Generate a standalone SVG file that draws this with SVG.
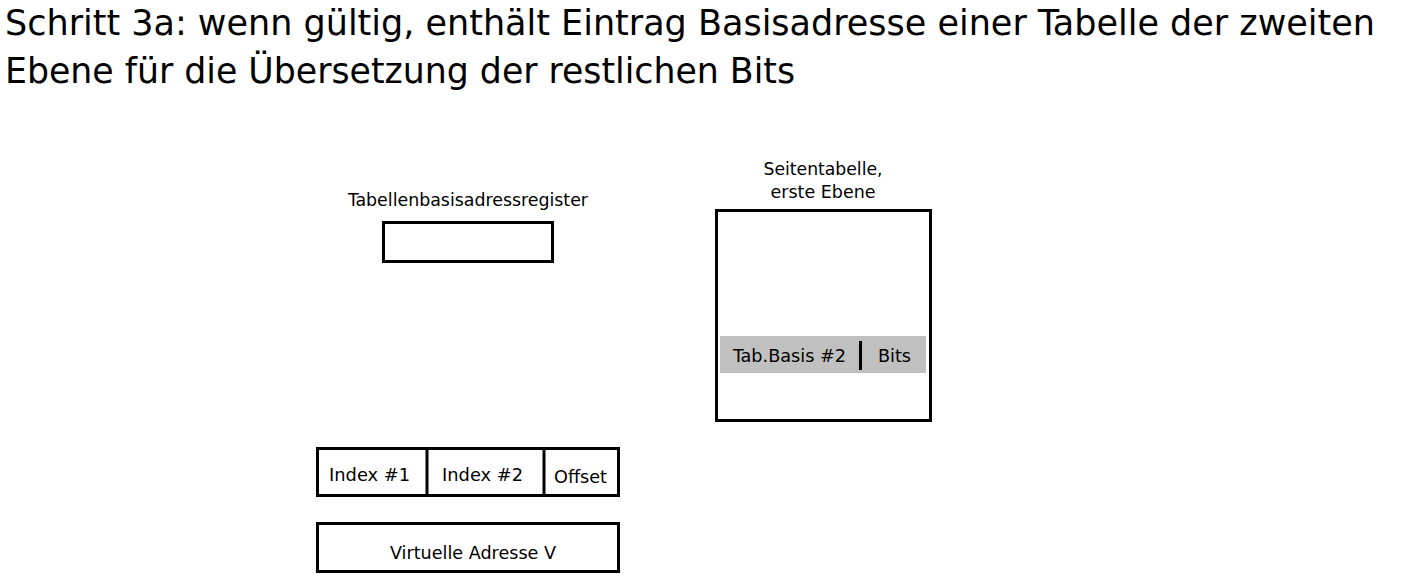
<svg xmlns="http://www.w3.org/2000/svg" width="1410" height="586" viewBox="0 0 1410 586">
  <style>
    text { font-family: "DejaVu Sans Condensed", "DejaVu Sans", sans-serif; fill: #000; }
    .title { font-size: 36px; }
    .lbl { font-size: 18px; }
    .box { fill: #fff; stroke: #000; stroke-width: 3; }
    .div { stroke: #000; stroke-width: 3; }
  </style>
  <rect width="1410" height="586" fill="#fff"/>

  <!-- heading -->
  <g id="title">
    <text class="title" x="5" y="35" textLength="1370" lengthAdjust="spacingAndGlyphs">Schritt 3a: wenn gültig, enthält Eintrag Basisadresse einer Tabelle der zweiten</text>
    <text class="title" x="5" y="83" textLength="790" lengthAdjust="spacingAndGlyphs">Ebene für die Übersetzung der restlichen Bits</text>
  </g>

  <!-- page table base register -->
  <g id="register">
    <text class="lbl" x="468" y="206" text-anchor="middle" textLength="240" lengthAdjust="spacingAndGlyphs">Tabellenbasisadressregister</text>
    <rect class="box" x="383.5" y="222.5" width="169" height="39"/>
  </g>

  <!-- first-level page table -->
  <g id="pagetable">
    <text class="lbl" x="823" y="175" text-anchor="middle" textLength="119" lengthAdjust="spacingAndGlyphs">Seitentabelle,</text>
    <text class="lbl" x="823" y="198" text-anchor="middle" textLength="105" lengthAdjust="spacingAndGlyphs">erste Ebene</text>
    <rect class="box" x="716.5" y="210.5" width="214" height="210"/>
    <g id="entry">
      <rect x="720" y="336" width="206" height="37" fill="#c0c0c0"/>
      <text class="lbl" x="733" y="362" textLength="113" lengthAdjust="spacingAndGlyphs">Tab.Basis #2</text>
      <line class="div" x1="860.5" y1="341" x2="860.5" y2="370" stroke-width="3.5"/>
      <text class="lbl" x="878" y="362" textLength="33" lengthAdjust="spacingAndGlyphs">Bits</text>
    </g>
  </g>

  <!-- split virtual address -->
  <g id="fields">
    <rect class="box" x="317.5" y="448.5" width="301" height="47"/>
    <line class="div" x1="427" y1="448" x2="427" y2="496"/>
    <line class="div" x1="544" y1="448" x2="544" y2="496"/>
    <text class="lbl" x="329" y="481" textLength="81" lengthAdjust="spacingAndGlyphs">Index #1</text>
    <text class="lbl" x="442" y="481" textLength="81" lengthAdjust="spacingAndGlyphs">Index #2</text>
    <text class="lbl" x="554" y="483" textLength="53" lengthAdjust="spacingAndGlyphs">Offset</text>
  </g>

  <!-- virtual address -->
  <g id="vaddr">
    <rect class="box" x="317.5" y="523.5" width="301" height="48"/>
    <text class="lbl" x="473" y="559" text-anchor="middle" textLength="166" lengthAdjust="spacingAndGlyphs">Virtuelle Adresse V</text>
  </g>
</svg>
